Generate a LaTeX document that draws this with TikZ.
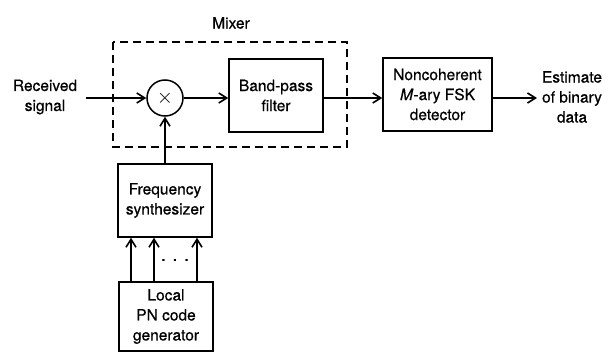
\documentclass[tikz,border=0pt]{standalone}
\usepackage{fontspec}
\setmainfont{TeX Gyre Heros}[FakeBold=0.6]
\usetikzlibrary{arrows.meta}
\begin{document}
\begin{tikzpicture}[x=1pt,y=-1pt,
  font=\fontsize{15.5}{20}\selectfont,
  blk/.style={draw,line width=1.5pt,inner sep=0pt,align=center},
  sig/.style={line width=2.4pt,-{Straight Barb[length=8pt,width=10pt,line width=1.6pt]}},
  txt/.style={align=center,inner sep=0pt}]
\useasboundingbox (0,0) rectangle (608,353);
\draw[line width=1.4pt,dash pattern=on 8pt off 5pt] (113,42) rectangle (347,147);
\node[txt] (mixlbl) at (231,23) {Mixer};
\node[draw,circle,line width=1.5pt,minimum size=36pt,inner sep=0pt] (mult) at (165,98) {\fontsize{20}{20}\selectfont$\times$};
\node[blk,minimum width=94pt,minimum height=73pt] (bpf) at (276,95.5) {Band-pass\\filter};
\node[blk,minimum width=109pt,minimum height=73pt] (det) at (437.5,94.5) {Noncoherent\\\textit{M}-ary FSK\\detector};
\node[blk,minimum width=94pt,minimum height=73pt] (syn) at (165,200.5) {Frequency\\synthesizer};
\node[blk,minimum width=94pt,minimum height=69pt] (pn) at (166,316.5) {Local\\PN code\\generator};
\node[txt] (rx) at (45,97) {Received\\signal};
\node[txt] (est) at (572,97) {Estimate\\of binary\\data};
\coordinate (in) at (86,98);
\coordinate (out) at (537,98);
\draw[sig] (in) -- (mult);
\draw[sig] (mult) -- (bpf.west |- mult);
\draw[sig] (bpf.east |- mult) -- (det.west |- mult);
\draw[sig] (det.east |- mult) -- (out);
\draw[sig] (syn.north -| mult) -- (mult.south);
\draw[sig] (pn.north -| 131,0) -- (syn.south -| 131,0);
\draw[sig] (pn.north -| 154,0) -- (syn.south -| 154,0);
\draw[sig] (pn.north -| 197,0) -- (syn.south -| 197,0);
\node[txt] (dots) at (175,260) {\fontsize{18}{18}\selectfont . . .};
\end{tikzpicture}
\end{document}
